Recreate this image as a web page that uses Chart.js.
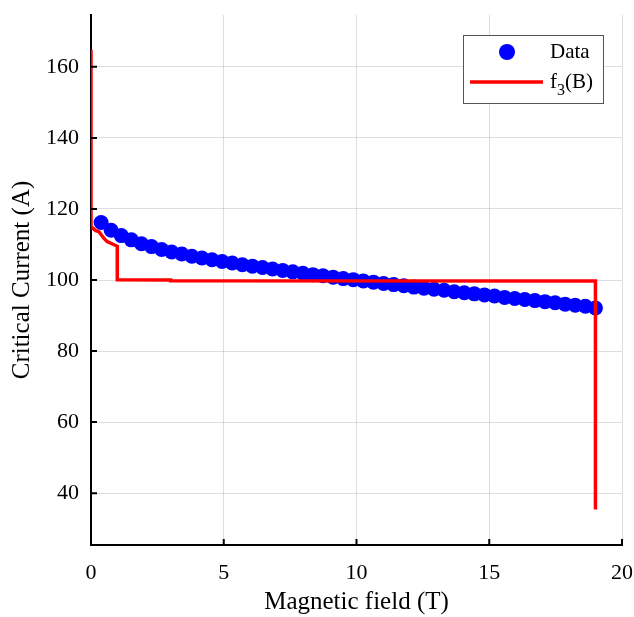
<!DOCTYPE html>
<html>
<head>
<meta charset="utf-8">
<script src="https://cdn.jsdelivr.net/npm/chart.js@4"></script>
<style>
  body { margin: 0; background: #fff; }
  canvas { display: block; }
</style>
</head>
<body>
<canvas id="chart" width="634" height="617"></canvas>
<script>
// measured points
var fieldT = [0.38, 0.76, 1.14, 1.52, 1.90, 2.28, 2.66, 3.04, 3.42, 3.80,
              4.18, 4.56, 4.94, 5.32, 5.70, 6.08, 6.46, 6.84, 7.22, 7.60,
              7.98, 8.36, 8.74, 9.12, 9.50, 9.88, 10.26, 10.64, 11.02, 11.40,
              11.78, 12.16, 12.54, 12.92, 13.30, 13.68, 14.06, 14.44, 14.82, 15.20,
              15.58, 15.96, 16.34, 16.72, 17.10, 17.48, 17.86, 18.24, 18.62, 19.00];
var currentA = [116.2, 114.0, 112.5, 111.3, 110.2, 109.4, 108.6, 107.9, 107.3, 106.7,
                106.2, 105.7, 105.2, 104.8, 104.3, 103.9, 103.5, 103.1, 102.7, 102.3,
                101.9, 101.5, 101.2, 100.8, 100.4, 100.1, 99.7, 99.4, 99.0, 98.7,
                98.4, 98.0, 97.7, 97.4, 97.1, 96.7, 96.4, 96.1, 95.8, 95.5,
                95.1, 94.8, 94.5, 94.2, 93.9, 93.6, 93.2, 92.9, 92.6, 92.1];

// f3(B) curve
var fitB = [0, 0, 0.18, 0.30, 0.49, 0.61, 0.99, 0.99, 3.0, 3.0, 19.0, 19.0];
var fitI = [164.8, 115.0, 113.9, 113.6, 111.7, 110.8, 109.5, 100.1, 100.0, 99.8, 99.7, 35.4];

var xTicks = [0, 5, 10, 15, 20];
var yTicks = [40, 60, 80, 100, 120, 140, 160];

var serif = "'Liberation Serif', 'DejaVu Serif', serif";

var toPoints = function(xs, ys){
    return xs.map(function(x, i){ return { x: x, y: ys[i] }; });
};

// inward tick marks + legend box with subscript
var extras = {
    id: "extras",
    afterDraw: function(chart){
        var ctx = chart.ctx;
        var area = chart.chartArea;
        var sx = chart.scales.x, sy = chart.scales.y;
        ctx.save();
        ctx.strokeStyle = "#000";
        ctx.lineWidth = 2;
        ctx.beginPath();
        yTicks.forEach(function(v){
            var p = sy.getPixelForValue(v);
            ctx.moveTo(area.left, p);
            ctx.lineTo(area.left + 6, p);
        });
        xTicks.forEach(function(v){
            var p = sx.getPixelForValue(v);
            ctx.moveTo(p, area.bottom);
            ctx.lineTo(p, area.bottom - 6);
        });
        ctx.stroke();

        // legend
        var bx = area.right - 159, by = area.top + 20, bw = 140, bh = 68;
        ctx.fillStyle = "#fff";
        ctx.fillRect(bx, by, bw, bh);
        ctx.strokeStyle = "#555";
        ctx.lineWidth = 1;
        ctx.strokeRect(bx + 0.5, by + 0.5, bw, bh);

        ctx.fillStyle = "#0000ff";
        ctx.beginPath();
        ctx.arc(bx + 44, by + 17, 8, 0, Math.PI * 2);
        ctx.fill();

        ctx.strokeStyle = "#ff0000";
        ctx.lineWidth = 3.5;
        ctx.beginPath();
        ctx.moveTo(bx + 7, by + 47);
        ctx.lineTo(bx + 80, by + 47);
        ctx.stroke();

        ctx.fillStyle = "#000";
        ctx.textBaseline = "middle";
        ctx.textAlign = "left";
        ctx.font = "21px " + serif;
        ctx.fillText("Data", bx + 87, by + 17);
        var tx = bx + 87;
        ctx.fillText("f", tx, by + 47);
        tx += ctx.measureText("f").width;
        ctx.font = "16px " + serif;
        ctx.fillText("3", tx, by + 56);
        tx += ctx.measureText("3").width;
        ctx.font = "21px " + serif;
        ctx.fillText("(B)", tx, by + 47);
        ctx.restore();
    }
};

var chart = new Chart(document.getElementById("chart").getContext("2d"), {
    type: "scatter",
    data: {
        datasets: [
            {
                label: "f3(B)",
                data: toPoints(fitB, fitI),
                showLine: true,
                borderColor: "#ff0000",
                borderWidth: 3.5,
                pointRadius: 0,
                tension: 0,
                order: 0
            },
            {
                label: "Data",
                data: toPoints(fieldT, currentA),
                backgroundColor: "#0000ff",
                borderWidth: 0,
                pointRadius: 7.5,
                pointHoverRadius: 7.5,
                order: 1
            }
        ]
    },
    options: {
        responsive: false,
        animation: false,
        layout: { padding: { left: 0, top: 15, right: 12, bottom: 0 } },
        plugins: {
            legend: { display: false },
            tooltip: { enabled: false }
        },
        scales: {
            x: {
                type: "linear",
                min: 0,
                max: 20,
                afterBuildTicks: function(scale){
                    scale.ticks = xTicks.map(function(v){ return { value: v }; });
                },
                afterFit: function(scale){
                    scale.height = 72;
                    scale.paddingLeft = 0;
                    scale.paddingRight = 0;
                },
                grid: { color: "rgba(0,0,0,0.13)", lineWidth: 1, drawTicks: false },
                border: { color: "#000", width: 2 },
                ticks: {
                    color: "#000",
                    padding: 15,
                    maxRotation: 0,
                    font: { family: serif, size: 22 }
                },
                title: {
                    display: true,
                    text: "Magnetic field (T)",
                    color: "#000",
                    padding: { top: 0, bottom: 0 },
                    font: { family: serif, size: 25 }
                }
            },
            y: {
                type: "linear",
                min: 25.4,
                max: 174.6,
                afterBuildTicks: function(scale){
                    scale.ticks = yTicks.map(function(v){ return { value: v }; });
                },
                afterFit: function(scale){
                    scale.width = 91;
                    scale.paddingTop = 0;
                    scale.paddingBottom = 0;
                },
                grid: { color: "rgba(0,0,0,0.13)", lineWidth: 1, drawTicks: false },
                border: { color: "#000", width: 2 },
                ticks: {
                    color: "#000",
                    padding: 12,
                    font: { family: serif, size: 22 }
                },
                title: {
                    display: true,
                    text: "Critical Current (A)",
                    color: "#000",
                    padding: { top: 7, bottom: 0 },
                    font: { family: serif, size: 25 }
                }
            }
        }
    },
    plugins: [extras]
});
</script>
</body>
</html>
